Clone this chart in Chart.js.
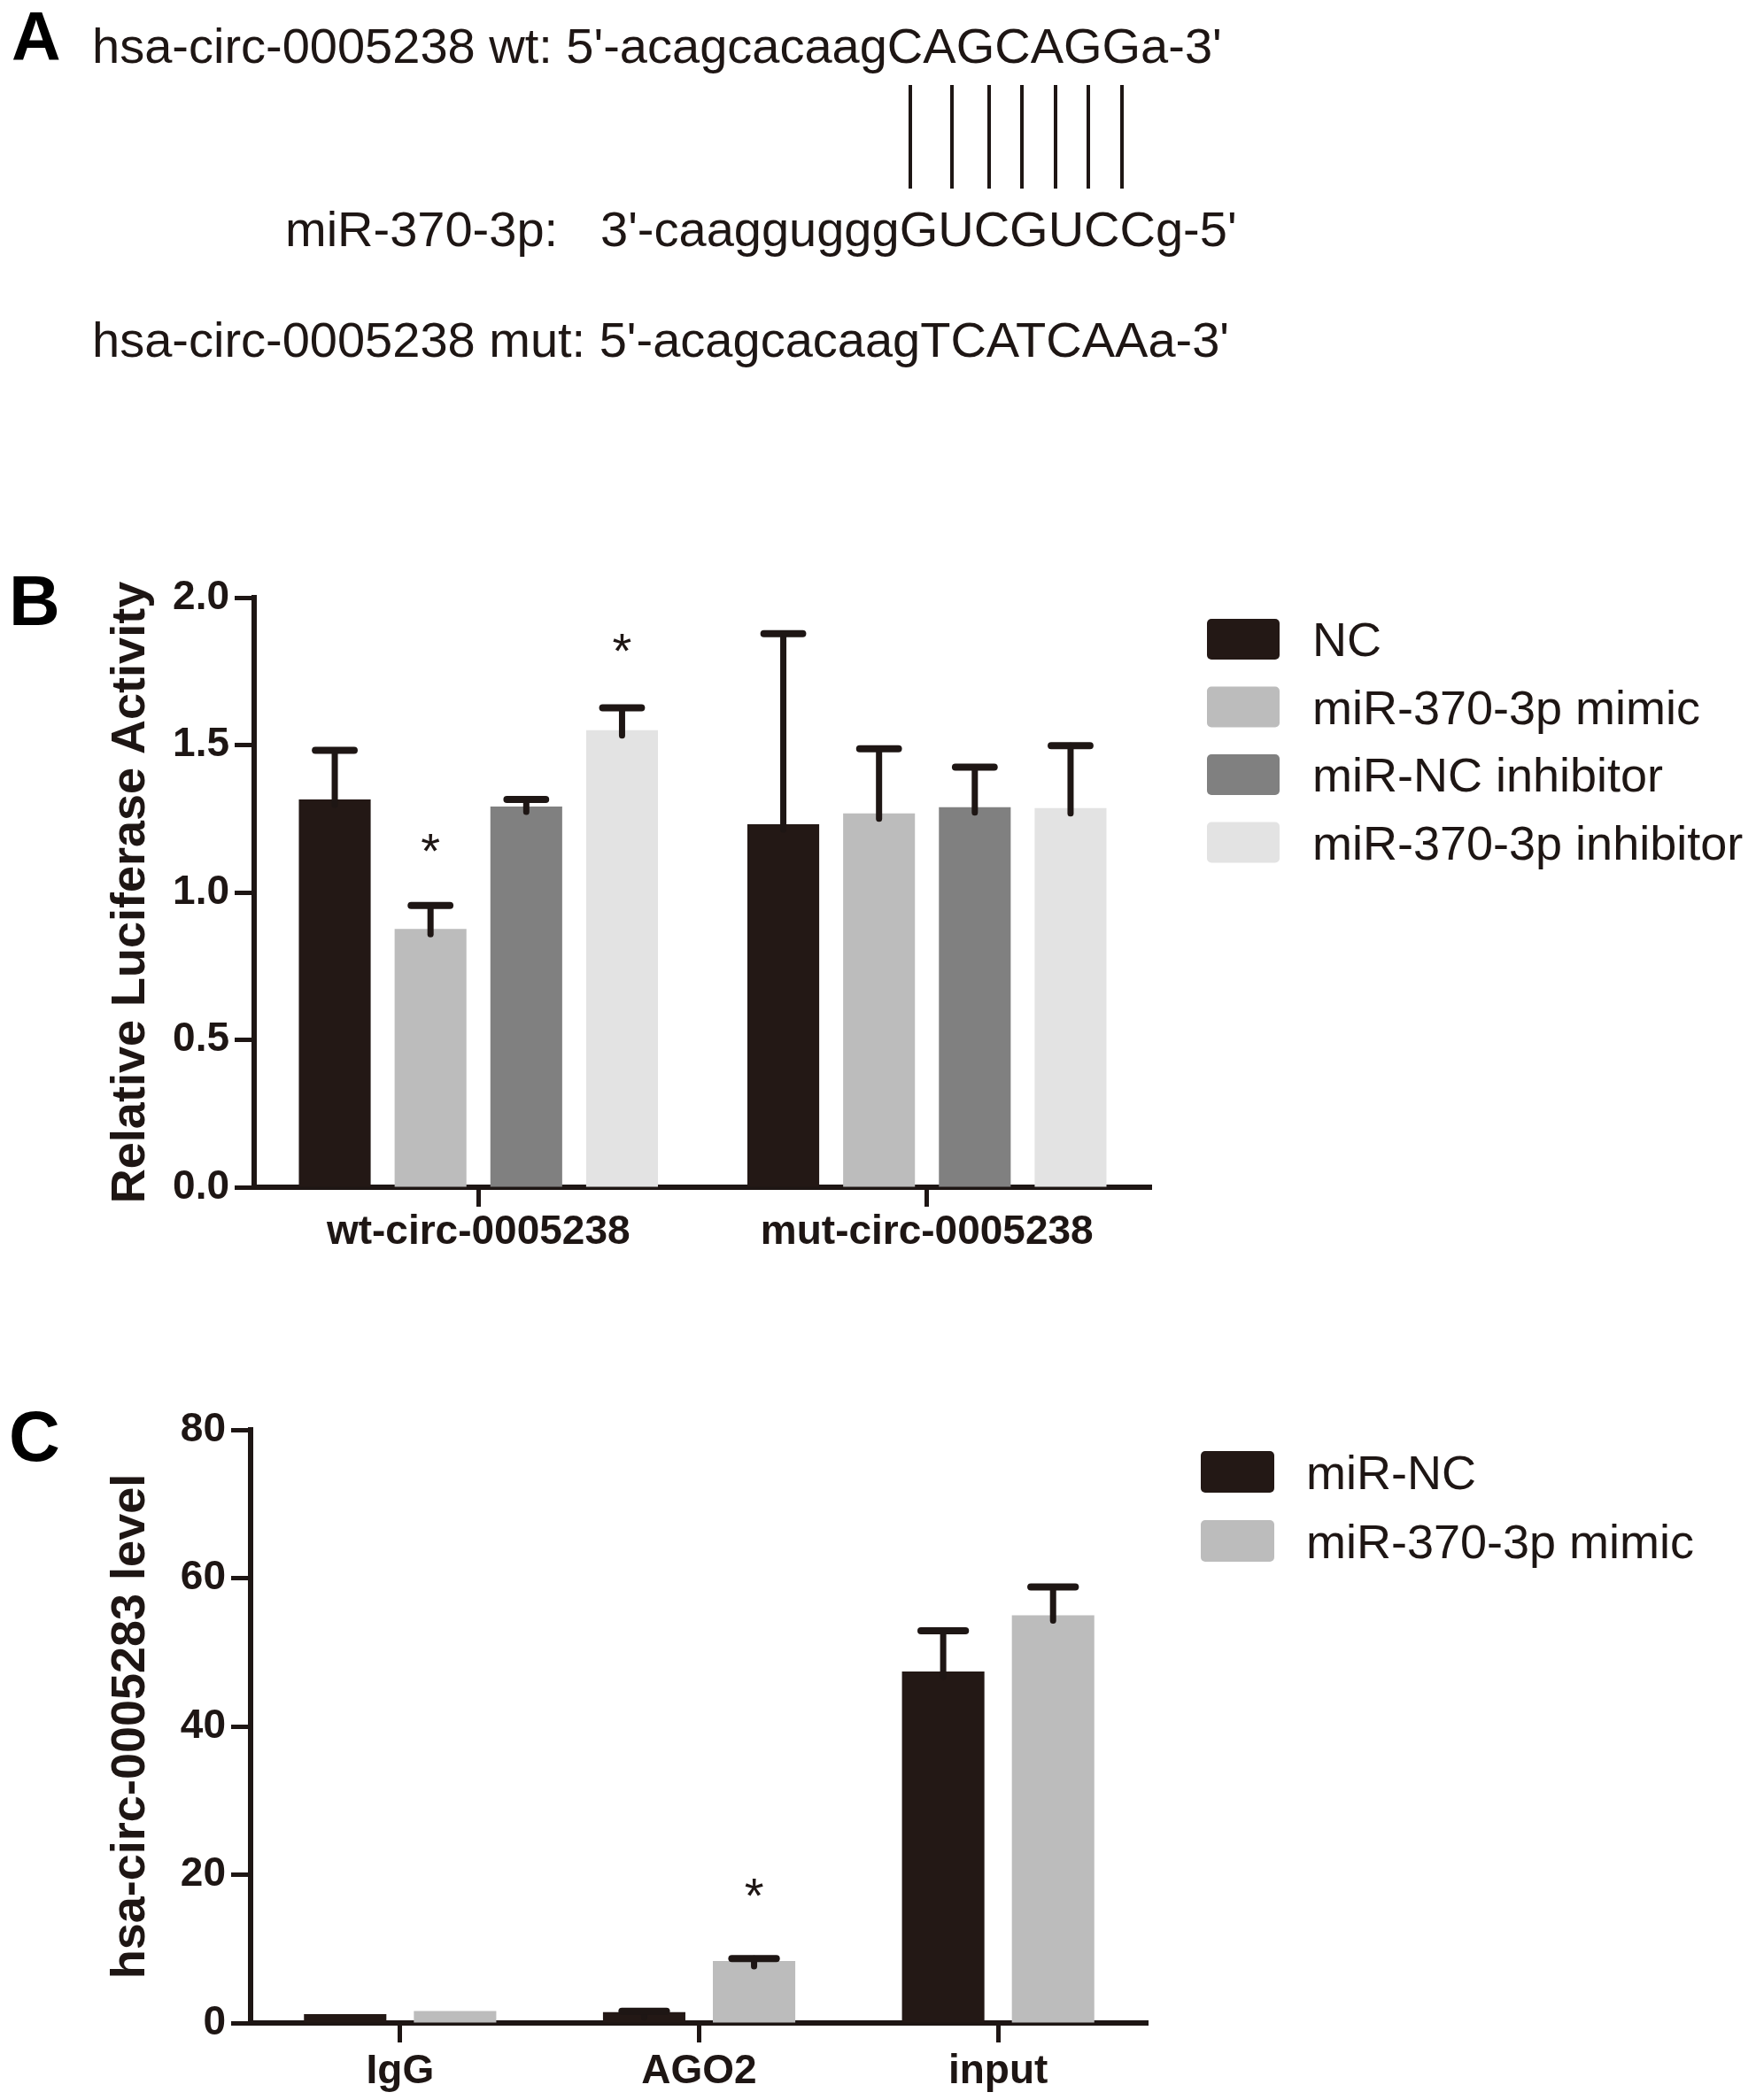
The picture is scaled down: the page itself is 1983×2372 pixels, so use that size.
<!DOCTYPE html>
<html lang="en">
<head>
  <meta charset="UTF-8">
  <title>hsa-circ-0005238 / miR-370-3p</title>
  <script src="https://cdn.jsdelivr.net/npm/chart.js"></script>
  <style>
    body {
      margin: 0;
      background: #ffffff;
      font-family: "Liberation Sans", Arial, sans-serif;
      color: #1e1614;
    }
    #page {
      position: relative;
      width: 1983px;
      height: 2372px;
      overflow: hidden;
    }
    .txt {
      position: absolute;
      white-space: nowrap;
      line-height: 1;
      font-size: 56px;
    }
    .panel {
      position: absolute;
      line-height: 1;
      font-weight: bold;
      font-size: 80px;
      color: #000;
    }
    .pair {
      position: absolute;
      top: 96px;
      width: 4px;
      height: 117px;
      background: #1e1614;
    }
    canvas {
      position: absolute;
      left: 0;
    }
  </style>
</head>
<body>
<div id="page">
  <!-- panel A: sequence alignment -->
  <div class="panel" style="left:13px; top:3px; font-size:77px;">A</div>
  <div class="txt" style="left:104px; top:24px;">hsa-circ-0005238 wt: 5'-acagcacaagCAGCAGGa-3'</div>
  <div class="pair" style="left:1026px;"></div>
  <div class="pair" style="left:1073px;"></div>
  <div class="pair" style="left:1115px;"></div>
  <div class="pair" style="left:1152px;"></div>
  <div class="pair" style="left:1190px;"></div>
  <div class="pair" style="left:1227px;"></div>
  <div class="pair" style="left:1265px;"></div>
  <div class="txt" style="left:322px; top:231px;">miR-370-3p:</div>
  <div class="txt" style="left:678px; top:231px;">3'-caaggugggGUCGUCCg-5'</div>
  <div class="txt" style="left:104px; top:356px;">hsa-circ-0005238 mut: 5'-acagcacaagTCATCAAa-3'</div>

  <div class="panel" style="left:10px; top:639px;">B</div>
  <canvas id="lucChart" width="1983" height="820" style="top:600px;"></canvas>

  <div class="panel" style="left:10px; top:1583px;">C</div>
  <canvas id="ripChart" width="1983" height="832" style="top:1540px;"></canvas>
</div>

<script>
  // ---- panel B: luciferase reporter ----
  const lucGroups = ['wt-circ-0005238', 'mut-circ-0005238'];
  const lucNames = ['NC', 'miR-370-3p mimic', 'miR-NC inhibitor', 'miR-370-3p inhibitor'];
  const lucNC = [1.315, 1.231];
  const lucNCErr = [0.167, 0.647];
  const lucMimic = [0.876, 1.268];
  const lucMimicErr = [0.08, 0.219];
  const lucNCInh = [1.291, 1.289];
  const lucNCInhErr = [0.024, 0.136];
  const lucInh = [1.55, 1.286];
  const lucInhErr = [0.076, 0.212];
  const lucMimicStar = [1.18, null];
  const lucInhStar = [1.86, null];
  const lucTicks = [0, 0.5, 1.0, 1.5, 2.0];

  // ---- panel C: RIP assay ----
  const ripGroups = ['IgG', 'AGO2', 'input'];
  const ripNames = ['miR-NC', 'miR-370-3p mimic'];
  const ripNC = [1.2, 1.45, 47.4];
  const ripNCErr = [null, 0.12, 5.5];
  const ripMimic = [1.6, 8.35, 55.0];
  const ripMimicErr = [null, 0.35, 3.8];
  const ripMimicStar = [null, 18.75, null];
  const ripTicks = [0, 20, 40, 60, 80];

  const INK = '#1e1614';
  const FONT = "'Liberation Sans', Arial, sans-serif";

  // upper error bars + asterisks, drawn after the bars
  const errorBars = {
    id: 'errorBars',
    afterDatasetsDraw(chart) {
      const ctx = chart.ctx;
      const y = chart.scales.y;
      ctx.save();
      chart.data.datasets.forEach((ds, i) => {
        const meta = chart.getDatasetMeta(i);
        meta.data.forEach((bar, j) => {
          const v = ds.data[j];
          if (ds.err[j] != null) {
            const top = y.getPixelForValue(v);
            const cap = y.getPixelForValue(v + ds.err[j]);
            const half = bar.width * 0.27;
            ctx.strokeStyle = INK;
            ctx.lineCap = 'round';
            ctx.lineWidth = 7;
            ctx.beginPath();
            ctx.moveTo(bar.x, top + 6);
            ctx.lineTo(bar.x, cap);
            ctx.stroke();
            ctx.lineWidth = 8;
            ctx.beginPath();
            ctx.moveTo(bar.x - half, cap);
            ctx.lineTo(bar.x + half, cap);
            ctx.stroke();
          }
          if (ds.stars && ds.stars[j] != null) {
            ctx.fillStyle = INK;
            ctx.font = '56px ' + FONT;
            ctx.textAlign = 'center';
            ctx.textBaseline = 'alphabetic';
            ctx.fillText('*', bar.x, y.getPixelForValue(ds.stars[j]) + 32);
          }
        });
      });
      ctx.restore();
    }
  };

  // legend block to the right of the plot
  const sideLegend = {
    id: 'sideLegend',
    afterDraw(chart, args, opts) {
      const ctx = chart.ctx;
      ctx.save();
      chart.data.datasets.forEach((ds, i) => {
        const by = opts.y + i * opts.pitch;
        ctx.fillStyle = ds.backgroundColor;
        ctx.beginPath();
        ctx.roundRect(opts.x, by, opts.w, opts.h, 5);
        ctx.fill();
        ctx.fillStyle = INK;
        ctx.font = '54px ' + FONT;
        ctx.textAlign = 'left';
        ctx.textBaseline = 'alphabetic';
        ctx.fillText(ds.label, opts.textX, by + opts.h / 2 + 19);
      });
      ctx.restore();
    }
  };

  function axes(yMin, yMax, ticks, title, fmt, yWidth, xHeight, xPad) {
    return {
      x: {
        offset: true,
        afterFit: s => { s.height = xHeight; },
        grid: { display: true, offset: false, drawOnChartArea: false, drawTicks: true,
                tickLength: 22, tickWidth: 5, tickColor: INK },
        border: { display: true, color: INK, width: 6 },
        ticks: { color: INK, padding: xPad, font: { family: FONT, size: 46, weight: 'bold' } }
      },
      y: {
        min: yMin, max: yMax,
        afterFit: s => { s.width = yWidth; },
        afterBuildTicks: s => { s.ticks = ticks.map(v => ({ value: v })); },
        grid: { display: true, drawOnChartArea: false, drawTicks: true,
                tickLength: 22, tickWidth: 5, tickColor: INK },
        border: { display: true, color: INK, width: 6 },
        ticks: { color: INK, padding: 6, callback: fmt,
                 font: { family: FONT, size: 46, weight: 'bold' } },
        title: { display: true, text: title, color: INK, padding: { top: 116, bottom: 0 },
                 font: { family: FONT, size: 54, weight: 'bold' } }
      }
    };
  }

  new Chart(document.getElementById('lucChart'), {
    type: 'bar',
    data: {
      labels: lucGroups,
      datasets: [
        { label: lucNames[0], data: lucNC, err: lucNCErr, backgroundColor: '#231815' },
        { label: lucNames[1], data: lucMimic, err: lucMimicErr, stars: lucMimicStar, backgroundColor: '#bcbcbc' },
        { label: lucNames[2], data: lucNCInh, err: lucNCInhErr, backgroundColor: '#808080' },
        { label: lucNames[3], data: lucInh, err: lucInhErr, stars: lucInhStar, backgroundColor: '#e3e3e3' }
      ]
    },
    options: {
      responsive: false,
      animation: false,
      devicePixelRatio: 1,
      layout: { padding: { left: 0, top: 75, right: 683, bottom: 0 } },
      datasets: { bar: { categoryPercentage: 0.854, barPercentage: 0.75 } },
      scales: axes(0, 2, lucTicks, 'Relative Luciferase Activity', v => v.toFixed(1), 287, 79, 2),
      plugins: {
        legend: { display: false },
        tooltip: { enabled: false },
        sideLegend: { x: 1363, y: 99, pitch: 76.5, w: 82, h: 46, textX: 1482 }
      }
    },
    plugins: [errorBars, sideLegend]
  });

  new Chart(document.getElementById('ripChart'), {
    type: 'bar',
    data: {
      labels: ripGroups,
      datasets: [
        { label: ripNames[0], data: ripNC, err: ripNCErr, backgroundColor: '#231815' },
        { label: ripNames[1], data: ripMimic, err: ripMimicErr, stars: ripMimicStar, backgroundColor: '#bcbcbc' }
      ]
    },
    options: {
      responsive: false,
      animation: false,
      devicePixelRatio: 1,
      layout: { padding: { left: 0, top: 75, right: 687, bottom: 0 } },
      datasets: { bar: { categoryPercentage: 0.735, barPercentage: 0.75 } },
      scales: axes(0, 80, ripTicks, 'hsa-circ-0005283 level', v => String(v), 283, 87, 6),
      plugins: {
        legend: { display: false },
        tooltip: { enabled: false },
        sideLegend: { x: 1356, y: 99, pitch: 78, w: 83, h: 47, textX: 1475 }
      }
    },
    plugins: [errorBars, sideLegend]
  });
</script>
</body>
</html>
